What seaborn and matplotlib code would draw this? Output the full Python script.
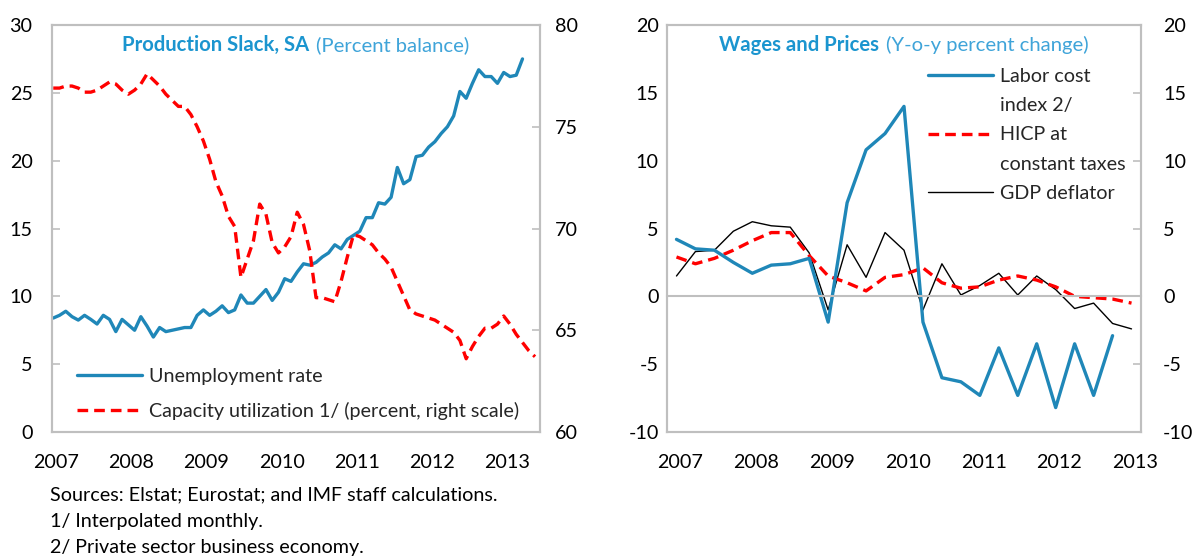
import numpy as np
import pandas as pd
import matplotlib
matplotlib.use("Agg")
import matplotlib.pyplot as plt
import seaborn as sns
from matplotlib.lines import Line2D
from matplotlib.offsetbox import TextArea, HPacker, AnchoredOffsetbox

# ---------------- data ----------------
# Left panel: monthly, Jan 2007 onward
unemployment = [8.4, 8.6, 8.9, 8.5, 8.25, 8.6, 8.3, 7.96, 8.6, 8.3,
                7.4, 8.3, 7.9, 7.5, 8.5, 7.8, 7.0, 7.7, 7.4, 7.5,
                7.6, 7.7, 7.7, 8.6, 9.0, 8.6, 8.9, 9.3, 8.8, 9.0,
                10.1, 9.5, 9.5, 10.0, 10.5, 9.7, 10.3, 11.3, 11.1, 11.8,
                12.4, 12.3, 12.5, 12.9, 13.2, 13.8, 13.5, 14.2, 14.5, 14.8,
                15.8, 15.8, 16.9, 16.8, 17.3, 19.5, 18.3, 18.6, 20.3, 20.4,
                21.0, 21.4, 22.0, 22.5, 23.3, 25.1, 24.6, 25.7, 26.7, 26.2,
                26.2, 25.7, 26.5, 26.2, 26.3, 27.5]
capacity = [76.9, 76.9, 77.0, 77.0, 76.9, 76.7, 76.7, 76.8, 77.0, 77.2,
            77.1, 76.8, 76.6, 76.8, 77.1, 77.6, 77.3, 77.0, 76.6, 76.3,
            76.0, 76.0, 75.6, 75.0, 74.3, 73.4, 72.3, 71.6, 70.6, 70.1,
            67.6, 68.5, 69.4, 71.2, 70.7, 69.3, 68.8, 69.1, 69.6, 70.8,
            70.2, 68.9, 66.6, 66.6, 66.5, 66.4, 67.4, 68.6, 69.7, 69.6,
            69.4, 69.2, 68.8, 68.5, 68.1, 67.4, 66.7, 66.0, 65.8, 65.7,
            65.6, 65.5, 65.3, 65.1, 64.9, 64.5, 63.6, 64.2, 64.7, 65.1,
            65.1, 65.3, 65.7, 65.3, 64.8, 64.4, 64.0, 63.7]
years = ["2007", "2008", "2009", "2010", "2011", "2012", "2013"]

# Right panel: quarterly, 2007Q1 onward
labor_cost = [4.2, 3.5, 3.4, 2.5, 1.7, 2.3, 2.4, 2.8, -1.9, 6.9,
              10.8, 12.0, 14.0, -1.9, -6.0, -6.3, -7.3, -3.8, -7.3, -3.5,
              -8.2, -3.5, -7.3, -2.9]
hicp = [2.9, 2.4, 2.8, 3.4, 4.1, 4.7, 4.7, 3.0, 1.5, 1.0,
        0.4, 1.4, 1.6, 2.1, 1.0, 0.6, 0.7, 1.2, 1.5, 1.2,
        0.7, 0.0, -0.1, -0.2, -0.5]
gdp_deflator = [1.5, 3.3, 3.4, 4.8, 5.5, 5.2, 5.1, 3.2, -1.0, 3.8,
                1.4, 4.7, 3.4, -1.0, 2.4, 0.1, 0.8, 1.7, 0.1, 1.5,
                0.5, -0.9, -0.5, -2.0, -2.4]

# ---------------- style ----------------
sns.set_theme(style="white")
plt.rcParams["font.family"] = ["Lato", "DejaVu Sans"]
plt.rcParams["axes.unicode_minus"] = False

BLUE = "#1f87b8"
RED = "#ff0000"
GRAY = "#bfbfbf"
TBOLD = "#1b95cf"
TLIGHT = "#3fa4d9"
FS = 14.2
TFS = 14.6
DASH = (0, (3.2, 1.8))

W, H = 1193, 560
fig = plt.figure(figsize=(W / 100, H / 100), dpi=100)


def style_spines(ax):
    for s in ax.spines.values():
        s.set_color(GRAY)
        s.set_linewidth(1.5)


def add_title(ax, bold, light):
    t1 = TextArea(bold, textprops=dict(color=TBOLD, fontweight="bold", fontsize=TFS))
    t2 = TextArea(light, textprops=dict(color=TLIGHT, fontsize=TFS))
    box = HPacker(children=[t1, t2], align="baseline", pad=0, sep=5)
    ab = AnchoredOffsetbox(loc="center", child=box, pad=0, borderpad=0, frameon=False,
                           bbox_to_anchor=(0.5, (432 - 45) / 407),
                           bbox_transform=ax.transAxes)
    ax.add_artist(ab)


# ---------------- left panel ----------------
ax1 = fig.add_axes([52 / W, (H - 432) / H, 488 / W, 407 / H])
ax1r = ax1.twinx()

df_u = pd.DataFrame({"month": np.arange(len(unemployment)), "value": unemployment})
df_c = pd.DataFrame({"month": np.arange(len(capacity)), "value": capacity})
sns.lineplot(data=df_u, x="month", y="value", ax=ax1, color=BLUE, linewidth=2.4)
sns.lineplot(data=df_c, x="month", y="value", ax=ax1r, color=RED, linewidth=2.4,
             linestyle=DASH)

ax1.set_xlim(-0.2, 77.8)
ax1.set_ylim(0, 30)
ax1r.set_ylim(60, 80)
for a in (ax1, ax1r):
    a.set_xlabel("")
    a.set_ylabel("")
    style_spines(a)

ax1.set_xticks([0.5 + 12 * i for i in range(len(years))], years)
ax1.set_xticks([-0.2 + 6 * k for k in range(1, 13)], minor=True)
ax1.tick_params(axis="x", which="major", length=0, pad=16, labelsize=FS, labelcolor="black")
ax1.tick_params(axis="x", which="minor", direction="in", length=6, width=1.2, color=GRAY)
ax1.set_yticks(range(0, 31, 5))
ax1.tick_params(axis="y", direction="in", length=6, width=1.2, color=GRAY, pad=14,
                labelsize=FS, labelcolor="black")
ax1r.set_yticks(range(60, 81, 5))
ax1r.tick_params(axis="y", direction="in", length=6, width=1.2, color=GRAY, pad=11,
                 labelsize=FS, labelcolor="black")

add_title(ax1, "Production Slack, SA", "(Percent balance)")

h_left = [Line2D([], [], color=BLUE, lw=2.4),
          Line2D([], [], color=RED, lw=2.4, linestyle=DASH)]
ax1r.legend(h_left, ["Unemployment rate", "Capacity utilization 1/ (percent, right scale)"],
            loc="lower left", bbox_to_anchor=((77 - 52) / 488, 0.03),
            frameon=False, fontsize=FS, handlelength=3.3, handletextpad=0.35,
            labelspacing=0.85, borderpad=0, borderaxespad=0)

# ---------------- right panel ----------------
ax2 = fig.add_axes([667 / W, (H - 432) / H, 474 / W, 407 / H])
ax2r = ax2.twinx()

q = np.arange(len(gdp_deflator))
df_l = pd.DataFrame({"q": np.arange(len(labor_cost)), "value": labor_cost})
df_h = pd.DataFrame({"q": np.arange(len(hicp)), "value": hicp})
df_g = pd.DataFrame({"q": q, "value": gdp_deflator})
sns.lineplot(data=df_g, x="q", y="value", ax=ax2, color="black", linewidth=1.0)
sns.lineplot(data=df_h, x="q", y="value", ax=ax2, color=RED, linewidth=2.4, linestyle=DASH)
sns.lineplot(data=df_l, x="q", y="value", ax=ax2, color=BLUE, linewidth=2.4)

for a in (ax2, ax2r):
    a.set_xlim(-0.5, 24.5)
    a.set_ylim(-10, 20)
    a.set_xlabel("")
    a.set_ylabel("")
    style_spines(a)

ax2.spines["bottom"].set_position(("data", 0))
ax2.set_xticks([])
ax2.set_xticks([1.5 + 2 * k for k in range(12)], minor=True)
ax2.tick_params(axis="x", which="minor", direction="in", length=6, width=1.2, color=GRAY)
ax2.set_yticks(range(-10, 21, 5))
ax2.tick_params(axis="y", length=0, pad=6, labelsize=FS, labelcolor="black")
ax2r.set_yticks(range(-10, 21, 5))
ax2r.tick_params(axis="y", direction="in", length=6, width=1.2, color=GRAY, pad=16,
                 labelsize=FS, labelcolor="black")

sec = ax2.secondary_xaxis(0)
sec.set_xticks([0.2 + 4 * i for i in range(len(years))], years)
sec.tick_params(length=0, pad=16, labelsize=FS, labelcolor="black")
sec.spines["bottom"].set_color(GRAY)
sec.spines["bottom"].set_linewidth(1.5)

add_title(ax2, "Wages and Prices", "(Y-o-y percent change)")

blank = Line2D([], [], color="none")
h_right = [Line2D([], [], color=BLUE, lw=2.4), blank,
           Line2D([], [], color=RED, lw=2.4, linestyle=DASH), blank,
           Line2D([], [], color="black", lw=1.0)]
ax2r.legend(h_right, ["Labor cost", "index 2/", "HICP at", "constant taxes", "GDP deflator"],
            loc="upper left", bbox_to_anchor=((928 - 667) / 474, (432 - 68) / 407),
            frameon=False, fontsize=FS, handlelength=3.3, handletextpad=0.35,
            labelspacing=0.62, borderpad=0, borderaxespad=0)

# ---------------- footnotes ----------------
notes = ["Sources: Elstat; Eurostat; and IMF staff calculations.",
         "1/ Interpolated monthly.",
         "2/ Private sector business economy."]
for i, n in enumerate(notes):
    fig.text(50 / W, 1 - (495 + 26 * i) / H, n, fontsize=FS, va="center", ha="left",
             color="black")

fig.savefig("out.png", dpi=100)
